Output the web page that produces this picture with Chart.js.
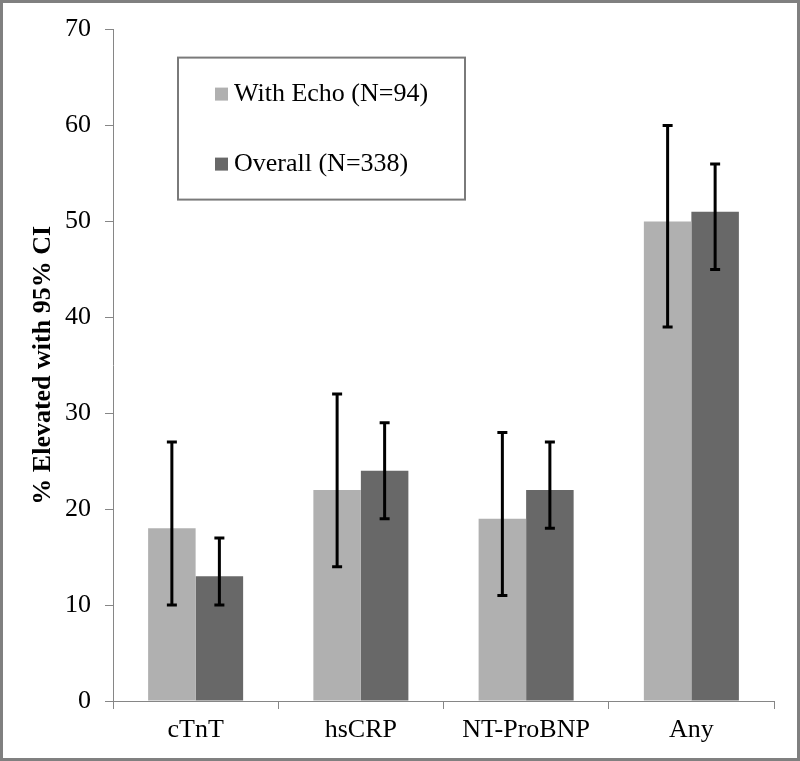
<!DOCTYPE html>
<html lang="en">
<head>
    <meta charset="UTF-8">
    <title>% Elevated with 95% CI</title>
    <script src="https://cdn.jsdelivr.net/npm/chart.js@4"></script>
    <style>
        html, body { margin: 0; padding: 0; background: #fff; }
        #wrap { width: 800px; height: 761px; }
    </style>
</head>
<body>
    <div id="wrap">
        <canvas id="markerChart" width="800" height="761"></canvas>
    </div>

    <script>
        // Values
        const categories = ['cTnT', 'hsCRP', 'NT-ProBNP', 'Any'];
        const seriesLabels = ['With Echo (N=94)', 'Overall (N=338)'];
        const echoValues = [18, 22, 19, 50];
        const echoLow = [10, 14, 11, 39];
        const echoHigh = [27, 32, 28, 60];
        const overallValues = [13, 24, 22, 51];
        const overallLow = [10, 19, 18, 45];
        const overallHigh = [17, 29, 27, 56];
        const yTicks = [0, 10, 20, 30, 40, 50, 60, 70];

        const axisColor = '#868686';
        const fontFamily = '"Liberation Serif", "Times New Roman", serif';

        // Draws the confidence interval whiskers on top of each bar
        const errorBars = {
            id: 'errorBars',
            afterDatasetsDraw(chart) {
                const ctx = chart.ctx;
                const y = chart.scales.y;
                ctx.save();
                ctx.strokeStyle = '#000';
                ctx.lineWidth = 3;
                chart.data.datasets.forEach((ds, i) => {
                    const meta = chart.getDatasetMeta(i);
                    meta.data.forEach((bar, j) => {
                        const top = y.getPixelForValue(ds.ciHigh[j]);
                        const bottom = y.getPixelForValue(ds.ciLow[j]);
                        ctx.beginPath();
                        ctx.moveTo(bar.x, top);
                        ctx.lineTo(bar.x, bottom);
                        ctx.moveTo(bar.x - 5, top);
                        ctx.lineTo(bar.x + 5, top);
                        ctx.moveTo(bar.x - 5, bottom);
                        ctx.lineTo(bar.x + 5, bottom);
                        ctx.stroke();
                    });
                });
                ctx.restore();
            }
        };

        // Boxed legend inside the plot area, plus the outer frame
        const boxLegend = {
            id: 'boxLegend',
            afterDraw(chart) {
                const ctx = chart.ctx;
                const area = chart.chartArea;
                const left = area.left + 65;
                const top = area.top + 28;
                ctx.save();
                ctx.strokeStyle = '#7a7a7a';
                ctx.lineWidth = 2;
                ctx.strokeRect(left, top, 287, 142);

                ctx.font = '26px ' + fontFamily;
                ctx.textBaseline = 'middle';
                ctx.fillStyle = '#000';
                chart.data.datasets.forEach((ds, i) => {
                    const rowY = top + 37 + i * 70;
                    ctx.fillStyle = ds.backgroundColor;
                    ctx.fillRect(left + 37, rowY - 7, 13, 13);
                    ctx.fillStyle = '#000';
                    ctx.fillText(ds.label, left + 56, rowY);
                });

                ctx.strokeStyle = '#808080';
                ctx.lineWidth = 3;
                ctx.strokeRect(1.5, 1.5, chart.width - 3, chart.height - 3);
                ctx.restore();
            }
        };

        const ctx = document.getElementById('markerChart').getContext('2d');
        new Chart(ctx, {
            type: 'bar',
            data: {
                labels: categories,
                datasets: [
                    {
                        label: seriesLabels[0],
                        data: echoValues,
                        ciLow: echoLow,
                        ciHigh: echoHigh,
                        backgroundColor: '#b0b0b0',
                        categoryPercentage: 0.575,
                        barPercentage: 1.0
                    },
                    {
                        label: seriesLabels[1],
                        data: overallValues,
                        ciLow: overallLow,
                        ciHigh: overallHigh,
                        backgroundColor: '#686868',
                        categoryPercentage: 0.575,
                        barPercentage: 1.0
                    }
                ]
            },
            options: {
                responsive: false,
                animation: false,
                layout: {
                    padding: { top: 27, right: 26, bottom: 0, left: 0 }
                },
                plugins: {
                    legend: { display: false },
                    title: { display: false },
                    tooltip: { enabled: false }
                },
                scales: {
                    x: {
                        afterFit: (scale) => { scale.height = 60; },
                        grid: {
                            display: true,
                            drawOnChartArea: false,
                            drawTicks: true,
                            tickLength: 8,
                            color: axisColor,
                            lineWidth: 1
                        },
                        border: { display: true, color: axisColor, width: 1 },
                        ticks: {
                            color: '#000',
                            padding: 6,
                            font: { family: fontFamily, size: 26 }
                        }
                    },
                    y: {
                        min: 0,
                        max: 70,
                        afterFit: (scale) => { scale.width = 113; },
                        afterBuildTicks: (scale) => {
                            scale.ticks = yTicks.map(v => ({ value: v }));
                        },
                        grid: {
                            display: true,
                            drawOnChartArea: false,
                            drawTicks: true,
                            tickLength: 8,
                            color: axisColor,
                            lineWidth: 1
                        },
                        border: { display: true, color: axisColor, width: 1 },
                        ticks: {
                            color: '#000',
                            padding: 14,
                            font: { family: fontFamily, size: 26 }
                        },
                        title: {
                            display: true,
                            text: '% Elevated with 95% CI',
                            color: '#000',
                            padding: { top: 28, bottom: 0 },
                            font: { family: fontFamily, size: 26, weight: 'bold' }
                        }
                    }
                }
            },
            plugins: [errorBars, boxLegend]
        });
    </script>
</body>
</html>
